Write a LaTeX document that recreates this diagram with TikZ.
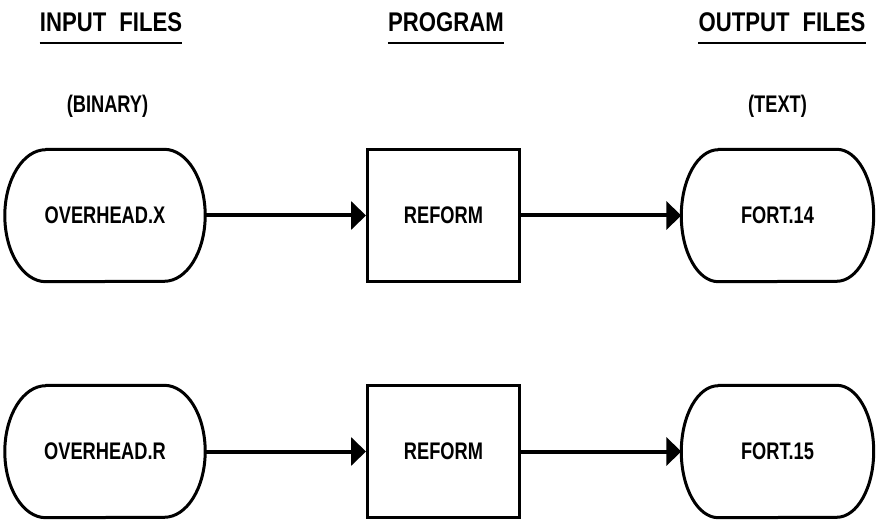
\documentclass[tikz,border=0pt]{standalone}
\usepackage{fontspec}
\setmainfont{Liberation Sans}
\newfontfamily\plotfont{Liberation Sans}[FakeStretch=0.76]
\newfontfamily\headfont{Liberation Sans}[FakeStretch=0.82]
\usetikzlibrary{arrows.meta}
\begin{document}
\begin{tikzpicture}[x=1pt,y=1pt,
  heading/.style={font=\headfont\bfseries\fontsize{27}{32}\selectfont, inner sep=0pt, anchor=base},
  note/.style={font=\plotfont\bfseries\fontsize{24}{28}\selectfont, inner sep=0pt, anchor=base},
  filebox/.style={minimum height=132pt, inner sep=0pt, font=\plotfont\bfseries\fontsize{24}{28}\selectfont},
  progbox/.style={draw, line width=3pt, minimum width=152pt, minimum height=132pt, inner sep=0pt,
    font=\plotfont\bfseries\fontsize{24}{28}\selectfont},
  outline/.style={line width=3pt, line join=round},
  rule/.style={line width=2.5pt},
  flow/.style={line width=4pt, -{Triangle[length=15pt,width=28pt]}}
]
\useasboundingbox (0,0) rectangle (876,523);

% column headings
\node[heading] (hin)  at (111,491) {INPUT\hspace{13pt}FILES};
\node[heading] (hprg) at (446,491) {PROGRAM};
\node[heading] (hout) at (782,491) {OUTPUT\hspace{13pt}FILES};
\foreach \h in {hin,hprg,hout}
  \draw[rule] ([yshift=-11pt]\h.base west) -- ([yshift=-11pt]\h.base east);

\node[note] (nbin) at (107.5,410) {(BINARY)};
\node[note] (ntxt) at (777.5,410) {(TEXT)};

% input files
\node[filebox, minimum width=200pt] (inx) at (105,307.5) {OVERHEAD.X};
\node[filebox, minimum width=200pt] (inr) at (105,71.5) {OVERHEAD.R};
\foreach \n in {inx,inr}
  \draw[outline] ([xshift=41pt]\n.north west) -- ([xshift=-41pt]\n.north east)
    arc[start angle=90, end angle=-90, x radius=41pt, y radius=66pt]
    -- ([xshift=41pt]\n.south west)
    arc[start angle=270, end angle=90, x radius=41pt, y radius=66pt] -- cycle;

% program
\node[progbox] (p1) at (443.5,307.5) {REFORM};
\node[progbox] (p2) at (443.5,71.5) {REFORM};

% output files
\node[filebox, minimum width=192pt] (f14) at (777.5,307.5) {FORT.14};
\node[filebox, minimum width=192pt] (f15) at (777.5,71.5) {FORT.15};
\foreach \n in {f14,f15}
  \draw[outline] ([xshift=37pt]\n.north west) -- ([xshift=-37pt]\n.north east)
    arc[start angle=90, end angle=-90, x radius=37pt, y radius=66pt]
    -- ([xshift=37pt]\n.south west)
    arc[start angle=270, end angle=90, x radius=37pt, y radius=66pt] -- cycle;

% data flow
\draw[flow] (inx.east) -- (p1.west);
\draw[flow] (p1.east) -- (f14.west);
\draw[flow] (inr.east) -- (p2.west);
\draw[flow] (p2.east) -- (f15.west);
\end{tikzpicture}
\end{document}
